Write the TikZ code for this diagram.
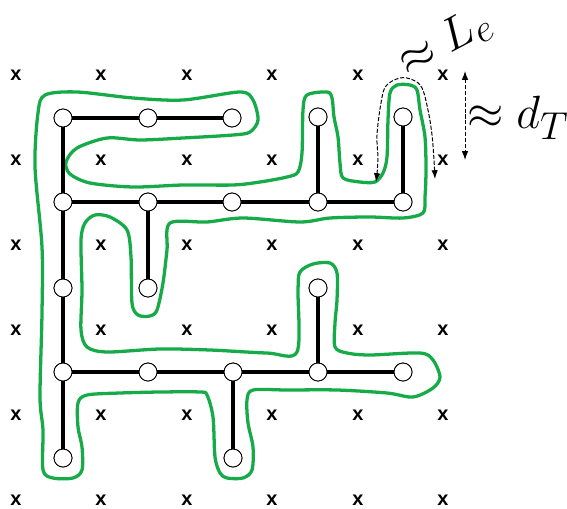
\documentclass[tikz,border=0pt]{standalone}
\usepackage{fontspec}
\newfontfamily\xfont{Liberation Sans}
\usetikzlibrary{arrows.meta}
\definecolor{tourgreen}{RGB}{22,170,72}
\begin{document}
\begin{tikzpicture}[x=0.03cm,y=-0.03cm,
  vert/.style={circle,draw=black,line width=0.75pt,fill=white,minimum size=0.54cm,inner sep=0pt},
  edge/.style={line width=3pt,black},
  tour/.style={draw=tourgreen,line width=2.8pt,line join=round},
  xmark/.style={font=\xfont\bfseries\fontsize{17}{17}\selectfont,inner sep=0pt},
  dasharrow/.style={line width=0.85pt,dash pattern=on 3.5pt off 1.5pt,{Latex[length=7.5pt,width=5.5pt]}-{Latex[length=7.5pt,width=5.5pt]}},
  biglabel/.style={inner sep=0pt}]
\useasboundingbox (0,0) rectangle (567,508);
% grid of x marks
\foreach \c/\xx in {0/16,1/101,2/187,3/272,4/358,5/443}{
  \foreach \r/\yy in {0/75,1/160,2/245,3/330,4/415,5/500}{
    \node[xmark] (x\c\r) at (\xx,\yy) {x};
  }
}
% green tour
\draw[tour] plot[smooth cycle,tension=0.5] coordinates {
(45,95) (77,92) (133,98) (183,100) (240,92) (253,100) (258,120) (250,132) (233,135) (183,138) (140,140) (107,138) (77,148) (66,162) (70,174) (90,183) (133,187) (183,185) (233,185) (260,182) (287,177) (298,172) (302,153) (303,110) (307,95) (327,92) (332,98) (334,117) (338,137) (340,163) (343,178) (360,182) (375,182) (383,173) (387,157) (388,120) (390,93) (397,85) (410,85) (417,90) (420,110) (425,137) (426,170) (425,197) (423,213) (403,218) (370,217) (330,218) (300,222) (243,218) (207,222) (170,223) (167,250) (163,283) (157,310) (150,316) (138,315) (132,303) (131,257) (127,230) (110,217) (95,215) (85,223) (81,240) (82,290) (81,330) (87,347) (107,352) (160,349) (210,350) (267,353) (297,352) (298,290) (300,272) (313,264) (330,263) (337,273) (337,300) (335,323) (335,347) (347,353) (370,355) (420,353) (433,360) (440,377) (433,388) (413,397) (387,393) (337,390) (287,390) (253,390) (247,400) (248,423) (253,447) (252,470) (243,478) (227,478) (220,473) (215,457) (213,417) (207,395) (200,392) (160,392) (120,393) (87,395) (78,403) (78,427) (82,447) (82,470) (73,478) (53,478) (43,470) (43,430) (40,397) (42,313) (42,247) (35,167) (38,113)};
% tree vertices
\node[vert] (a1) at (63,118) {};
\node[vert] (a2) at (148,118) {};
\node[vert] (a3) at (232,118) {};
\node[vert] (a4) at (318,117) {};
\node[vert] (a5) at (403,117) {};
\node[vert] (b1) at (63,202) {};
\node[vert] (b2) at (148,202) {};
\node[vert] (b3) at (232,202) {};
\node[vert] (b4) at (318,202) {};
\node[vert] (b5) at (403,202) {};
\node[vert] (c1) at (63,288) {};
\node[vert] (c2) at (148,288) {};
\node[vert] (c4) at (318,288) {};
\node[vert] (d1) at (63,372) {};
\node[vert] (d2) at (148,372) {};
\node[vert] (d3) at (233,372) {};
\node[vert] (d4) at (318,372) {};
\node[vert] (d5) at (403,372) {};
\node[vert] (e1) at (63,458) {};
\node[vert] (e3) at (233,458) {};
% tree edges
\draw[edge] (a1) -- (a2) -- (a3);
\draw[edge] (a1) -- (b1);
\draw[edge] (b1) -- (b2) -- (b3) -- (b4) -- (b5);
\draw[edge] (a4) -- (b4);
\draw[edge] (a5) -- (b5);
\draw[edge] (b2) -- (c2);
\draw[edge] (b1) -- (c1) -- (d1) -- (e1);
\draw[edge] (d1) -- (d2) -- (d3) -- (d4) -- (d5);
\draw[edge] (c4) -- (d4);
\draw[edge] (d3) -- (e3);
% redraw vertices on top
\foreach \n in {a1,a2,a3,a4,a5,b1,b2,b3,b4,b5,c1,c2,c4,d1,d2,d3,d4,d5,e1,e3}{
  \node[vert] at (\n) {};
}
% annotations
\coordinate (leS) at (376,182);
\coordinate (leE) at (435,179);
\draw[dasharrow] plot[smooth,tension=0.6] coordinates {(376,182) (378,160) (377,135) (381,103) (386,86) (400,78) (413,80) (422,88) (428,110) (432,135) (434,160) (435,179)};
\coordinate (dtTop) at (465,71);
\coordinate (dtBot) at (465,160);
\draw[dasharrow] (dtTop) -- (dtBot);
\node[biglabel,rotate=28] (le) at (445,42) {\scalebox{1.6}{\Huge$\approx L_e$}};
\node[biglabel] (dt) at (518,118) {\scalebox{1.6}{\Huge$\approx d_T$}};
\end{tikzpicture}
\end{document}
